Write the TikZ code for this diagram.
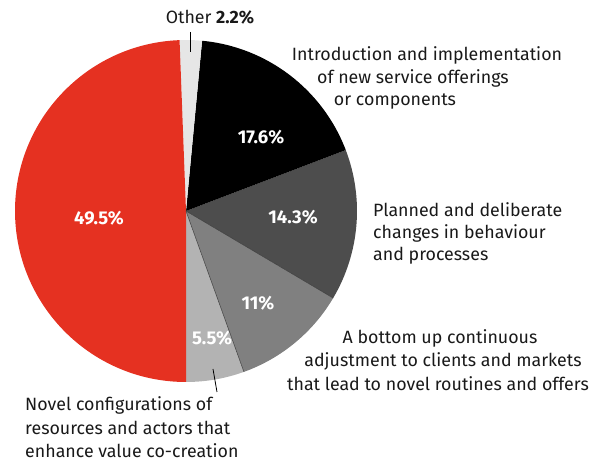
\documentclass[tikz,border=0pt]{standalone}
\usepackage{fontspec}
\setmainfont{Fira Sans}
\definecolor{pred}{HTML}{E53121}
\definecolor{pdark}{HTML}{4D4D4D}
\definecolor{pmid}{HTML}{808080}
\definecolor{plight}{HTML}{B3B3B3}
\definecolor{pother}{HTML}{E6E6E6}
\begin{document}
\begin{tikzpicture}[x=1pt,y=1pt,
  lbl/.style={font=\fontsize{17.8}{23}\selectfont, inner sep=0pt, text=black!90},
  pct/.style={font=\fontsize{18.5}{20}\selectfont\bfseries, text=white, inner sep=0pt},
  leader/.style={draw=black, line width=0.8pt}]
\useasboundingbox (0,0) rectangle (614,463);
\coordinate (c) at (186,252);
\def\R{171}
\fill[plight] (c) -- ++(270:\R) arc[start angle=270,end angle=289.8,radius=\R] -- cycle;
\fill[pmid] (c) -- ++(289.8:\R) arc[start angle=289.8,end angle=329.4,radius=\R] -- cycle;
\fill[pdark] (c) -- ++(329.4:\R) arc[start angle=329.4,end angle=380.88,radius=\R] -- cycle;
\fill[black] (c) -- ++(20.88:\R) arc[start angle=20.88,end angle=84.6,radius=\R] -- cycle;
\fill[pother] (c) -- ++(84.6:\R) arc[start angle=84.6,end angle=92.16,radius=\R] -- cycle;
\fill[pred] (c) -- ++(92.16:\R) arc[start angle=92.16,end angle=270,radius=\R] -- cycle;
\draw[black!75, line width=0.5pt] (c) -- ++(289.8:\R);
\draw[black!75, line width=0.5pt] (c) -- ++(329.4:\R);
% percentages
\node[pct] (p495) at (99,245) {49.5\%};
\node[pct] (p176) at (261,326) {17.6\%};
\node[pct] (p143) at (293,246) {14.3\%};
\node[pct] (p11) at (258,160) {11\%};
\node[pct] (p55) at (212,125) {5.5\%};
% labels
\node[lbl] (other) at (210,446) {Other \textbf{2.2\%}};
\coordinate (o1) at (190.5,431);
\coordinate (o2) at (190.5,411);
\draw[leader] (o1) -- (o2);
\node[lbl] (i1) at (427,408) {Introduction and implementation};
\node[lbl] (i2) at (413,385) {of new service offerings};
\node[lbl] (i3) at (395,361) {or components};
\node[lbl, anchor=west] (pl1) at (373,253) {Planned and deliberate};
\node[lbl, anchor=west] (pl2) at (373,230) {changes in behaviour};
\node[lbl, anchor=west] (pl3) at (373,207) {and processes};
\node[lbl] (b1) at (440,125) {A bottom up continuous};
\node[lbl] (b2) at (443,102) {adjustment to clients and markets};
\node[lbl] (b3) at (438,79) {that lead to novel routines and offers};
\node[lbl, anchor=west] (n1) at (25,58) {Novel configurations of};
\node[lbl, anchor=west] (n2) at (25,35) {resources and actors that};
\node[lbl, anchor=west] (n3) at (25,12) {enhance value co-creation};
\coordinate (l1) at (213,94);
\coordinate (l2) at (217,71);
\draw[leader] (l1) -- (l2);
\end{tikzpicture}
\end{document}
